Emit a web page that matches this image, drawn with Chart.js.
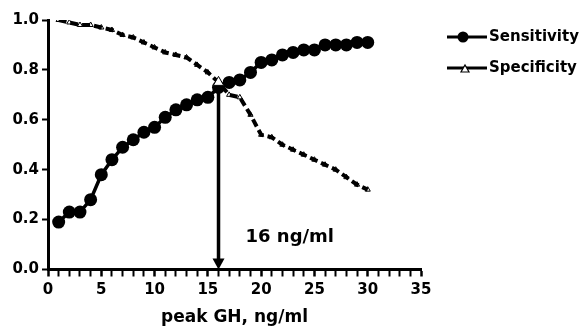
<!DOCTYPE html>
<html><head><meta charset="utf-8">
<script src="https://cdn.jsdelivr.net/npm/chart.js@4"></script>
<style>html,body{margin:0;padding:0;background:#fff}#wrap{width:584px;height:330px}</style>
</head><body><div id="wrap"><canvas id="c" width="584" height="330"></canvas></div>
<script>
const peakGH = [1,2,3,4,5,6,7,8,9,10,11,12,13,14,15,16,17,18,19,20,21,22,23,24,25,26,27,28,29,30];
const sensitivity = [0.19,0.23,0.23,0.28,0.38,0.44,0.49,0.52,0.55,0.57,0.61,0.64,0.66,0.68,0.69,0.73,0.75,0.76,0.79,0.83,0.84,0.86,0.87,0.88,0.88,0.90,0.90,0.90,0.91,0.91];
const specificity = [1.00,0.99,0.98,0.98,0.97,0.96,0.94,0.93,0.91,0.89,0.87,0.86,0.85,0.82,0.79,0.75,0.70,0.69,0.62,0.54,0.53,0.50,0.48,0.46,0.44,0.42,0.40,0.37,0.34,0.32];
const xMajorTicks = [0,5,10,15,20,25,30,35];
const xMinorStep = 1;
const yTicks = [0.0,0.2,0.4,0.6,0.8,1.0];
const seriesNames = ['Sensitivity','Specificity'];
const cutoffX = 16;
const cutoffY = 0.735;
const cutoffLabel = '16 ng/ml';
const cutoffLabelY = 0.128;
const xTitle = 'peak GH, ng/ml';

const FONT = 'DejaVu Sans';
const toPts = arr => arr.map((v,i)=>({x:peakGH[i], y:v}));

const extras = {
  id:'extras',
  beforeDatasetsDraw(chart){
    const {ctx, scales:{x,y}} = chart;
    const px = x.getPixelForValue(cutoffX);
    const top = y.getPixelForValue(cutoffY);
    const bot = y.getPixelForValue(0);
    ctx.save();
    ctx.setLineDash([]);
    ctx.strokeStyle='#000'; ctx.fillStyle='#000'; ctx.lineWidth=3.5;
    ctx.beginPath(); ctx.moveTo(px, top); ctx.lineTo(px, bot-9); ctx.stroke();
    ctx.beginPath(); ctx.moveTo(px-6, bot-11); ctx.lineTo(px+6, bot-11); ctx.lineTo(px, bot); ctx.closePath(); ctx.fill();
    ctx.restore();
  },
  afterDraw(chart){
    const {ctx, scales:{x,y}} = chart;
    ctx.save();
    ctx.setLineDash([]);
    ctx.fillStyle='#000'; ctx.strokeStyle='#000';
    ctx.font = 'bold 18px "'+FONT+'"';
    ctx.textBaseline='middle'; ctx.textAlign='left';
    ctx.fillText(cutoffLabel, x.getPixelForValue(cutoffX)+27, y.getPixelForValue(cutoffLabelY));
    const lx0 = 447, lx1 = 487, tx = 489;
    const rows = [37, 68];
    ctx.font = 'bold 15px "'+FONT+'"';
    ctx.lineWidth=3;
    ctx.beginPath(); ctx.moveTo(lx0, rows[0]); ctx.lineTo(lx1, rows[0]); ctx.stroke();
    ctx.beginPath(); ctx.arc(463, rows[0], 5.5, 0, Math.PI*2); ctx.fill();
    ctx.fillText(seriesNames[0], tx, rows[0]);
    ctx.lineWidth=3;
    ctx.beginPath(); ctx.moveTo(lx0, rows[1]); ctx.lineTo(lx1, rows[1]); ctx.stroke();
    ctx.fillStyle='#fff'; ctx.lineWidth=1.2;
    ctx.beginPath(); ctx.moveTo(461, rows[1]+4); ctx.lineTo(469, rows[1]+4); ctx.lineTo(465, rows[1]-3); ctx.closePath(); ctx.fill(); ctx.stroke();
    ctx.fillStyle='#000';
    ctx.fillText(seriesNames[1], tx, rows[1]);
    ctx.restore();
  }
};

const isCut = c => peakGH[c.dataIndex] === cutoffX;

new Chart(document.getElementById('c'), {
  type:'line',
  data:{ datasets:[
    { label:seriesNames[1], data:toPts(specificity), order:0,
      borderColor:'#000', borderWidth:4, borderDash:[8,4],
      pointStyle:'triangle',
      pointRadius: c => isCut(c) ? 6 : 3,
      pointBackgroundColor: c => isCut(c) ? '#fff' : 'rgba(255,255,255,0)',
      pointBorderColor:'#000', pointBorderWidth:1,
      tension:0 },
    { label:seriesNames[0], data:toPts(sensitivity), order:1,
      borderColor:'#000', borderWidth:3.5,
      pointStyle:'circle', pointRadius:6.5, pointBackgroundColor:'#000', pointBorderColor:'#000', pointBorderWidth:0,
      tension:0 }
  ]},
  options:{
    responsive:false, animation:false, devicePixelRatio:1,
    layout:{padding:{top:20,right:163,left:0,bottom:0}},
    plugins:{legend:{display:false}, tooltip:{enabled:false}},
    scales:{
      x:{ type:'linear', min:0, max:35,
        afterBuildTicks: s => { const t=[]; for(let v=s.min; v<=s.max; v+=xMinorStep) t.push({value:v}); s.ticks=t; },
        ticks:{ autoSkip:false, maxRotation:0, minRotation:0, color:'#000', padding:5,
          font:{family:FONT, size:15, weight:'bold'},
          callback:v => xMajorTicks.includes(v) ? String(v) : '' },
        grid:{ drawOnChartArea:false, drawTicks:true, tickLength:7, tickColor:'#000',
          tickWidth: c => (c.tick && xMajorTicks.includes(c.tick.value)) ? 2.5 : 2 },
        border:{ color:'#000', width:3 },
        title:{ display:true, text:xTitle, color:'#000', font:{family:FONT, size:17, weight:'bold'}, padding:{top:0,bottom:2} },
        afterFit: s => { s.height = 60.5; }
      },
      y:{ min:0, max:1,
        afterBuildTicks: s => { s.ticks = yTicks.map(v=>({value:v})); },
        ticks:{ color:'#000', padding:3, font:{family:FONT, size:15, weight:'bold'}, callback:v=>Number(v).toFixed(1) },
        grid:{ drawOnChartArea:false, drawTicks:true, tickLength:6, tickColor:'#000', tickWidth:2 },
        border:{ color:'#000', width:3 },
        afterFit: s => { s.width = 48; }
      }
    }
  },
  plugins:[extras]
});
</script></body></html>
